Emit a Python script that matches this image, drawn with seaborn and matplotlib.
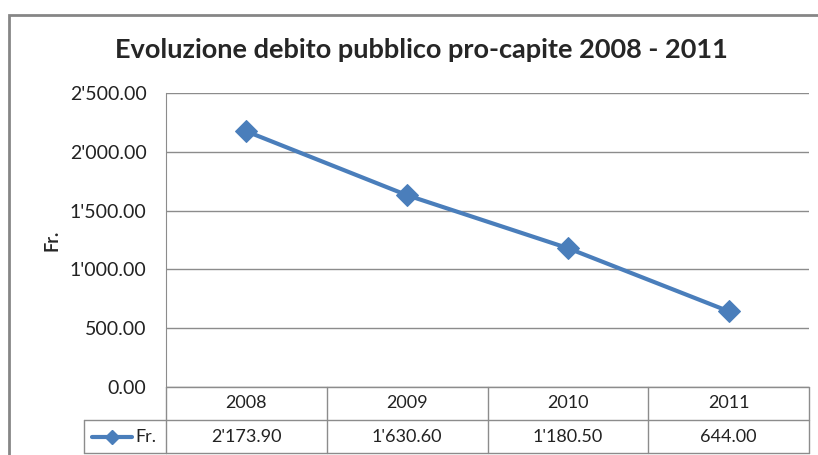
import numpy as np
import pandas as pd
import matplotlib
matplotlib.use('Agg')
import matplotlib.pyplot as plt
from matplotlib.patches import Rectangle
from matplotlib.lines import Line2D
import seaborn as sns

years = ['2008', '2009', '2010', '2011']
debt = [2173.90, 1630.60, 1180.50, 644.00]
series_name = 'Fr.'
yticks = [0, 500, 1000, 1500, 2000, 2500]

BLUE = '#4A7EBB'
GRID = '#8C8C8C'

def swiss(v):
    return f"{v:,.2f}".replace(',', "'")

sns.set_style('white')
plt.rcParams['font.family'] = ['Lato', 'DejaVu Sans']

df = pd.DataFrame({'pos': np.arange(len(years)), 'val': debt})

W, H = 818, 455
fig = plt.figure(figsize=(W / 100, H / 100), dpi=100)
L, R, T, B = 166, 809, 93, 387
ax = fig.add_axes([L / W, 1 - B / H, (R - L) / W, (B - T) / H])

sns.lineplot(data=df, x='pos', y='val', ax=ax, color=BLUE, lw=3,
             marker='D', markersize=11, markeredgecolor=BLUE, zorder=5)

ax.set_xlim(-0.5, len(years) - 0.5)
ax.set_ylim(yticks[0], yticks[-1])
ax.set_yticks(yticks)
ax.set_yticklabels([swiss(v) for v in yticks], fontsize=14, color='#222222')
ax.set_xticks([])
ax.set_xlabel('')
ax.set_ylabel('Fr.', fontsize=13, fontweight='bold', labelpad=7)
ax.tick_params(axis='y', length=0, pad=14)
for s in ['top', 'right', 'bottom']:
    ax.spines[s].set_visible(False)
ax.spines['left'].set_color(GRID)
ax.yaxis.grid(True, color=GRID, lw=1)
ax.set_axisbelow(True)

fig.text(421 / W, 1 - 58 / H, 'Evoluzione debito pubblico pro-capite 2008 - 2011',
         fontsize=19.5, fontweight='bold', ha='center', va='baseline')

# data table below the plot
tr = ax.get_xaxis_transform()
rh = 33 / (B - T)
n = len(years)
kw = dict(transform=tr, clip_on=False, color=GRID, lw=1)
ax.plot([-0.5, n - 0.5], [0, 0], **kw)
ax.plot([-0.5, n - 0.5], [-rh, -rh], **kw)
ax.plot([-0.5, n - 0.5], [-2 * rh, -2 * rh], **kw)
for i in range(n + 1):
    ax.plot([i - 0.5, i - 0.5], [0, -2 * rh], **kw)
leg_left = -0.5 - (L - 84) / ((R - L) / n)
ax.plot([leg_left, -0.5], [-rh, -rh], **kw)
ax.plot([leg_left, -0.5], [-2 * rh, -2 * rh], **kw)
ax.plot([leg_left, leg_left], [-rh, -2 * rh], **kw)
for i, (yr, v) in enumerate(zip(years, debt)):
    ax.text(i, -0.5 * rh, yr, transform=tr, ha='center', va='center',
            fontsize=13, color='#222222')
    ax.text(i, -1.5 * rh, swiss(v), transform=tr, ha='center', va='center',
            fontsize=13, color='#222222')
lx0 = leg_left + 0.05
lx1 = leg_left + 0.30
ax.add_line(Line2D([lx0, lx1], [-1.5 * rh, -1.5 * rh], transform=tr,
                   color=BLUE, lw=3, clip_on=False))
ax.add_line(Line2D([(lx0 + lx1) / 2], [-1.5 * rh], transform=tr, color=BLUE,
                   marker='D', markersize=7, clip_on=False))
ax.text(lx1 + 0.02, -1.5 * rh, series_name, transform=tr, ha='left',
        va='center', fontsize=13, color='#222222')

# chart area border (cropped on right and bottom)
fig.add_artist(Rectangle((9 / W, -0.1), 1.5, 1 - 15 / H + 0.1,
                         transform=fig.transFigure, fill=False,
                         edgecolor='#868686', lw=2))

fig.savefig('out.png', dpi=100)
